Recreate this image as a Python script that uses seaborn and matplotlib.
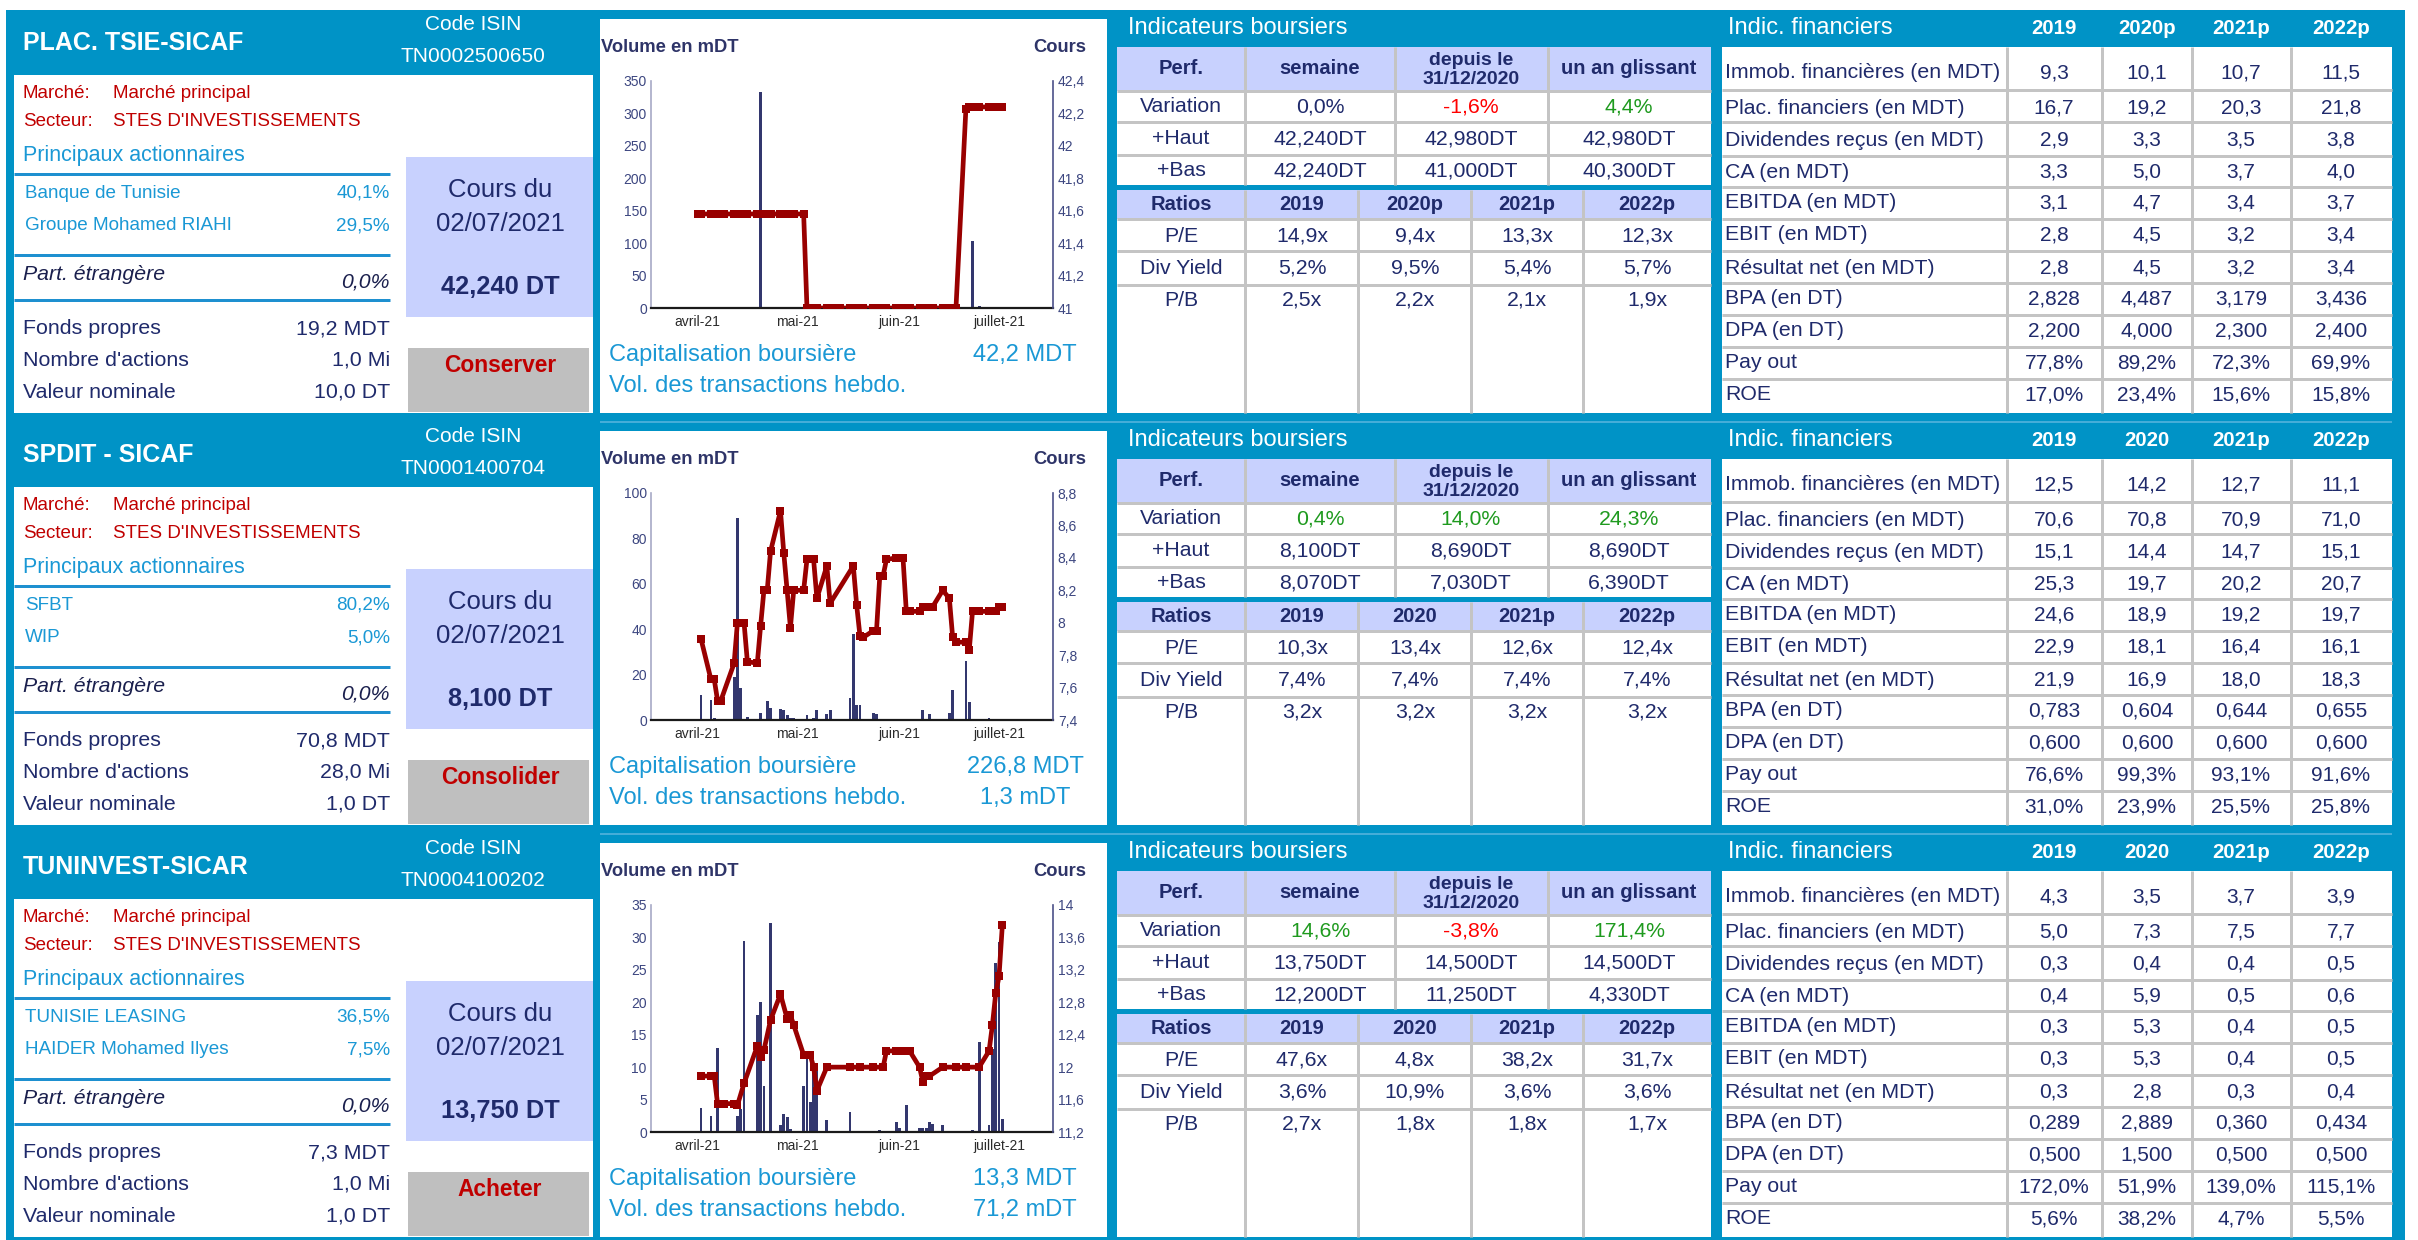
import numpy as np
import pandas as pd
import matplotlib
matplotlib.use("Agg")
import matplotlib.pyplot as plt
import seaborn as sns
from matplotlib.patches import Rectangle
from matplotlib.ticker import FuncFormatter, MultipleLocator

# --- fiche data -------------------------------------------------------------
names = ["PLAC. TSIE-SICAF", "SPDIT - SICAF", "TUNINVEST-SICAR"]
isin = ["TN0002500650", "TN0001400704", "TN0004100202"]
marche = ["Marché principal"] * 3
secteur = ["STES D'INVESTISSEMENTS"] * 3
shareholders = [
    [("Banque de Tunisie", "40,1%"), ("Groupe Mohamed RIAHI", "29,5%")],
    [("SFBT", "80,2%"), ("WIP", "5,0%")],
    [("TUNISIE LEASING", "36,5%"), ("HAIDER Mohamed Ilyes", "7,5%")],
]
part_etrangere = ["0,0%", "0,0%", "0,0%"]
cours_date = ["02/07/2021"] * 3
cours = ["42,240 DT", "8,100 DT", "13,750 DT"]
fonds_propres = ["19,2 MDT", "70,8 MDT", "7,3 MDT"]
nb_actions = ["1,0 Mi", "28,0 Mi", "1,0 Mi"]
nominal = ["10,0 DT", "1,0 DT", "1,0 DT"]
reco = ["Conserver", "Consolider", "Acheter"]
capi = ["42,2 MDT", "226,8 MDT", "13,3 MDT"]
vol_hebdo = ["", "1,3 mDT", "71,2 mDT"]

perf_cols = ["semaine", "depuis le\n31/12/2020", "un an glissant"]
variation = [["0,0%", "-1,6%", "4,4%"], ["0,4%", "14,0%", "24,3%"], ["14,6%", "-3,8%", "171,4%"]]
plus_haut = [["42,240DT", "42,980DT", "42,980DT"], ["8,100DT", "8,690DT", "8,690DT"],
             ["13,750DT", "14,500DT", "14,500DT"]]
plus_bas = [["42,240DT", "41,000DT", "40,300DT"], ["8,070DT", "7,030DT", "6,390DT"],
            ["12,200DT", "11,250DT", "4,330DT"]]
years = [["2019", "2020p", "2021p", "2022p"], ["2019", "2020", "2021p", "2022p"],
         ["2019", "2020", "2021p", "2022p"]]
pe = [["14,9x", "9,4x", "13,3x", "12,3x"], ["10,3x", "13,4x", "12,6x", "12,4x"],
      ["47,6x", "4,8x", "38,2x", "31,7x"]]
div_yield = [["5,2%", "9,5%", "5,4%", "5,7%"], ["7,4%", "7,4%", "7,4%", "7,4%"],
             ["3,6%", "10,9%", "3,6%", "3,6%"]]
pb = [["2,5x", "2,2x", "2,1x", "1,9x"], ["3,2x", "3,2x", "3,2x", "3,2x"],
      ["2,7x", "1,8x", "1,8x", "1,7x"]]

fin_labels = ["Immob. financières (en MDT)", "Plac. financiers (en MDT)", "Dividendes reçus (en MDT)",
              "CA (en MDT)", "EBITDA (en MDT)", "EBIT (en MDT)", "Résultat net (en MDT)",
              "BPA (en DT)", "DPA (en DT)", "Pay out", "ROE"]
fin_plac_tsie = [["9,3", "10,1", "10,7", "11,5"], ["16,7", "19,2", "20,3", "21,8"], ["2,9", "3,3", "3,5", "3,8"],
                 ["3,3", "5,0", "3,7", "4,0"], ["3,1", "4,7", "3,4", "3,7"], ["2,8", "4,5", "3,2", "3,4"],
                 ["2,8", "4,5", "3,2", "3,4"], ["2,828", "4,487", "3,179", "3,436"],
                 ["2,200", "4,000", "2,300", "2,400"], ["77,8%", "89,2%", "72,3%", "69,9%"],
                 ["17,0%", "23,4%", "15,6%", "15,8%"]]
fin_spdit = [["12,5", "14,2", "12,7", "11,1"], ["70,6", "70,8", "70,9", "71,0"], ["15,1", "14,4", "14,7", "15,1"],
             ["25,3", "19,7", "20,2", "20,7"], ["24,6", "18,9", "19,2", "19,7"], ["22,9", "18,1", "16,4", "16,1"],
             ["21,9", "16,9", "18,0", "18,3"], ["0,783", "0,604", "0,644", "0,655"],
             ["0,600", "0,600", "0,600", "0,600"], ["76,6%", "99,3%", "93,1%", "91,6%"],
             ["31,0%", "23,9%", "25,5%", "25,8%"]]
fin_tuninvest = [["4,3", "3,5", "3,7", "3,9"], ["5,0", "7,3", "7,5", "7,7"], ["0,3", "0,4", "0,4", "0,5"],
                 ["0,4", "5,9", "0,5", "0,6"], ["0,3", "5,3", "0,4", "0,5"], ["0,3", "5,3", "0,4", "0,5"],
                 ["0,3", "2,8", "0,3", "0,4"], ["0,289", "2,889", "0,360", "0,434"],
                 ["0,500", "1,500", "0,500", "0,500"], ["172,0%", "51,9%", "139,0%", "115,1%"],
                 ["5,6%", "38,2%", "4,7%", "5,5%"]]
fin_values = [fin_plac_tsie, fin_spdit, fin_tuninvest]

# --- chart data (dates MM-DD 2021) -----------------------------------------
c1_price_dates = ["04-01", "04-02", "04-05", "04-06", "04-07", "04-08", "04-09", "04-12", "04-13", "04-14",
                  "04-15", "04-16", "04-19", "04-20", "04-21", "04-22", "04-23", "04-26", "04-27", "04-28",
                  "04-29", "04-30", "05-03",
                  "05-04", "05-05", "05-06", "05-07", "05-10", "05-11", "05-12", "05-13", "05-14", "05-17",
                  "05-18", "05-19", "05-20", "05-21", "05-24", "05-25", "05-26", "05-27", "05-28", "05-31",
                  "06-01", "06-02", "06-03", "06-04", "06-07", "06-08", "06-09", "06-10", "06-11", "06-14",
                  "06-15", "06-16", "06-17", "06-18",
                  "06-21", "06-22", "06-23", "06-24", "06-25", "06-28", "06-29", "06-30", "07-01", "07-02"]
c1_prices = [41.58] * 23 + [41.0] * 34 + [42.23] + [42.24] * 9
c1_vol_dates = ["04-20", "06-23", "06-25"]
c1_vol = [333, 104, 2.6]

c2_price_dates = ["04-02", "04-05", "04-06", "04-07", "04-08", "04-12", "04-13", "04-14", "04-15", "04-16",
                  "04-19", "04-20", "04-21", "04-22", "04-23", "04-26", "04-27", "04-28", "04-29", "04-30",
                  "05-03", "05-04", "05-05", "05-06", "05-07", "05-10", "05-11", "05-18", "05-19", "05-20",
                  "05-21", "05-24", "05-25", "05-26", "05-27", "05-28", "05-31", "06-01", "06-02", "06-03",
                  "06-04", "06-07", "06-08", "06-09", "06-10", "06-11", "06-14", "06-16", "06-17", "06-18",
                  "06-21", "06-22", "06-23", "06-25", "06-28", "06-30", "07-01", "07-02"]
c2_prices = [7.90, 7.65, 7.65, 7.52, 7.52, 7.75, 8.00, 8.00, 8.00, 7.76,
             7.75, 7.98, 8.20, 8.20, 8.44, 8.69, 8.43, 8.20, 7.97, 8.20,
             8.20, 8.39, 8.39, 8.39, 8.15, 8.35, 8.12, 8.35, 8.11, 7.92,
             7.91, 7.95, 7.95, 8.29, 8.29, 8.39, 8.40, 8.40, 8.40, 8.07,
             8.07, 8.07, 8.10, 8.10, 8.10, 8.10, 8.20, 8.15, 7.91, 7.88,
             7.88, 7.83, 8.07, 8.07, 8.07, 8.07, 8.10, 8.10]
c2_vol_dates = ["04-02", "04-05", "04-06", "04-07", "04-12", "04-13", "04-14", "04-16", "04-19", "04-20",
                "04-21", "04-22", "04-23", "04-26", "04-27", "04-28", "04-29", "04-30", "05-04", "05-06",
                "05-07", "05-10", "05-11", "05-17", "05-18", "05-19", "05-20", "05-24", "05-25", "05-26",
                "06-02", "06-08", "06-10", "06-16", "06-17", "06-21", "06-22", "06-28", "07-01"]
c2_vol = [11, 9, 0.7, 0.5, 19, 89, 14, 1.2, 0.3, 3.2,
          0.6, 8.2, 5.4, 5.0, 4.4, 2.0, 0.9, 0.7, 2.3, 0.9,
          4.2, 2.5, 4.2, 9.5, 37.7, 6.5, 6.5, 3.2, 2.5, 0.3,
          0.3, 4.2, 2.5, 3.2, 13, 26.2, 7.9, 1.0, 0.3]

c3_price_dates = ["04-02", "04-05", "04-06", "04-07", "04-08", "04-09", "04-12", "04-13", "04-15", "04-19",
                  "04-20", "04-21", "04-23", "04-26", "04-28", "04-29", "04-30", "05-03", "05-05", "05-06",
                  "05-07", "05-10", "05-17", "05-20", "05-24", "05-27", "05-28", "05-31", "06-02", "06-04",
                  "06-07", "06-08", "06-09", "06-10", "06-14", "06-18", "06-21", "06-25", "06-28", "06-29",
                  "06-30", "07-01", "07-02"]
c3_prices = [11.89, 11.89, 11.89, 11.55, 11.55, 11.55, 11.55, 11.53, 11.80, 12.26,
             12.12, 12.21, 12.58, 12.90, 12.60, 12.64, 12.52, 12.15, 12.15, 12.00,
             11.71, 12.00, 12.00, 12.00, 12.00, 12.00, 12.20, 12.20, 12.20, 12.20,
             12.00, 11.82, 11.89, 11.89, 12.00, 12.00, 12.00, 12.00, 12.20, 12.52,
             12.91, 13.12, 13.75]
c3_vol_dates = ["04-02", "04-05", "04-07", "04-13", "04-14", "04-15", "04-19", "04-20", "04-21", "04-23",
                "04-26", "04-27", "04-28", "04-29", "05-03", "05-04", "05-05", "05-06", "05-07", "05-10",
                "05-17", "05-26", "05-31", "06-01", "06-03", "06-07", "06-08", "06-09", "06-10", "06-11",
                "06-14", "06-23", "06-25", "06-28", "06-29", "06-30", "07-01", "07-02"]
c3_vol = [3.7, 2.5, 12.9, 2.5, 3.5, 29.5, 18.0, 20.1, 7.1, 32.2,
          1.1, 2.8, 2.3, 0.4, 7.1, 11.8, 4.7, 9.8, 9.5, 1.8,
          3.1, 0.3, 1.6, 0.6, 4.2, 0.6, 0.6, 0.6, 1.5, 1.2,
          1.1, 0.3, 13.9, 1.1, 12.8, 26.0, 29.3, 2.0]

charts = [
    (c1_price_dates, c1_prices, c1_vol_dates, c1_vol),
    (c2_price_dates, c2_prices, c2_vol_dates, c2_vol),
    (c3_price_dates, c3_prices, c3_vol_dates, c3_vol),
]
vol_max = [350, 100, 35]
vol_step = [50, 20, 5]
price_lim = [(41, 42.4), (7.4, 8.8), (11.2, 14)]
price_step = [0.2, 0.2, 0.4]
month_ticks = ["04-01", "05-01", "06-01", "07-01"]
month_labels = ["avril-21", "mai-21", "juin-21", "juillet-21"]

# --- style ------------------------------------------------------------------
W, H = 2418, 1240
BLUE = "#0093C6"
LIGHT = "#C8D1FE"
NAVY = "#1F2A6B"
CYAN = "#1A98D5"
RED = "#C00000"
GRID = "#C4C4C4"
BAR = "#33376E"
LINE = "#990000"
GREEN = "#1E9A1E"

sns.set_theme(style="white")
plt.rcParams["font.family"] = ["Liberation Sans", "DejaVu Sans"]


def day_of(d):
    return (pd.Timestamp("2021-" + d) - pd.Timestamp("2021-04-01")).days


def comma(v, _=None):
    return f"{round(v, 2):g}".replace(".", ",")


fig = plt.figure(figsize=(W / 100, H / 100), dpi=100)
bg = fig.add_axes([0, 0, 1, 1])
bg.set_xlim(0, W)
bg.set_ylim(H, 0)
bg.axis("off")


def rect(x0, y0, x1, y1, color):
    bg.add_patch(Rectangle((x0, y0), x1 - x0, y1 - y0, facecolor=color, edgecolor="none", lw=0))


def txt(x, y, s, size, color=NAVY, ha="left", weight="normal", style="normal", ls=1.05):
    bg.text(x, y, s, fontsize=size, color=color, ha=ha, va="center", fontweight=weight,
            fontstyle=style, linespacing=ls)


def hline(x0, x1, y, color=GRID, px=3):
    bg.plot([x0, x1], [y, y], color=color, lw=px * 0.72, solid_capstyle="butt")


def vline(x, y0, y1, color=GRID, px=3):
    bg.plot([x, x], [y0, y1], color=color, lw=px * 0.72, solid_capstyle="butt")


def val_color(s):
    if s.startswith("-"):
        return "#FF0000"
    if s.strip("%").replace(",", "") == "00":
        return NAVY
    return GREEN


rect(6, 10, 2405, H, BLUE)

for r in range(3):
    y0 = 10 + 412 * r
    if r > 0:
        hline(600, 2392, y0, color="#5DB6DE", px=1.5)

    # --- left identity panel ---
    txt(23, y0 + 33, names[r], 18, "white", weight="bold")
    txt(473, y0 + 15, "Code ISIN", 15, "white", ha="center")
    txt(473, y0 + 47, isin[r], 15, "white", ha="center")
    rect(14, y0 + 65, 593, y0 + 403, "white")
    txt(23, y0 + 83, "Marché:", 13.5, RED)
    txt(113, y0 + 83, marche[r], 13.5, RED)
    txt(23, y0 + 112, "Secteur:", 13.5, RED)
    txt(113, y0 + 112, secteur[r], 13.5, RED)
    txt(23, y0 + 145, "Principaux actionnaires", 15.5, CYAN)
    hline(14, 390, y0 + 164, color="#1E90D0", px=3)
    for k, (who, pct) in enumerate(shareholders[r]):
        txt(25, y0 + 183 + 33 * k, who, 13.6, CYAN)
        txt(390, y0 + 183 + 33 * k, pct, 13.6, CYAN, ha="right")
    hline(14, 390, y0 + 245, color="#1E90D0", px=3)
    txt(23, y0 + 265, "Part. étrangère", 15.3, "#1A1F4D", style="italic")
    txt(390, y0 + 272, part_etrangere[r], 15.3, "#1A1F4D", ha="right", style="italic")
    hline(14, 390, y0 + 290, color="#1E90D0", px=3)
    for k, (lab, v) in enumerate([("Fonds propres", fonds_propres[r]),
                                  ("Nombre d'actions", nb_actions[r]),
                                  ("Valeur nominale", nominal[r])]):
        txt(23, y0 + 319 + 31.5 * k, lab, 15.4)
        txt(390, y0 + 319 + 31.5 * k, v, 15.4, ha="right")
    rect(406, y0 + 147, 593, y0 + 307, LIGHT)
    txt(500, y0 + 180, "Cours du", 18.5, ha="center")
    txt(500, y0 + 214, cours_date[r], 18.5, ha="center")
    txt(500, y0 + 277, cours[r], 18.3, ha="center", weight="bold")
    rect(408, y0 + 338, 589, y0 + 402, "#BFBFBF")
    txt(500, y0 + 356, reco[r], 16.4, RED, ha="center", weight="bold")

    # --- chart panel ---
    rect(600, y0 + 9, 1107, y0 + 403, "white")
    txt(601, y0 + 38, "Volume en mDT", 13.2, "#2E3468", weight="bold")
    txt(1086, y0 + 38, "Cours", 13.2, "#2E3468", ha="right", weight="bold")
    txt(609, y0 + 345, "Capitalisation boursière", 17, CYAN)
    txt(1025, y0 + 345, capi[r], 17, CYAN, ha="center")
    txt(609, y0 + 376, "Vol. des transactions hebdo.", 17, CYAN)
    txt(1025, y0 + 376, vol_hebdo[r], 17, CYAN, ha="center")

    p_dates, p_vals, v_dates, v_vals = charts[r]
    vol_df = pd.DataFrame({"day": [day_of(d) for d in v_dates], "vol": v_vals})
    price_df = pd.DataFrame({"day": [day_of(d) for d in p_dates], "price": p_vals})
    min_gap = np.diff(np.unique(vol_df["day"])).min()

    ax = fig.add_axes([651 / W, 1 - (y0 + 298) / H, (1053 - 651) / W, 227 / H])
    ax.set_facecolor("white")
    sns.barplot(data=vol_df, x="day", y="vol", native_scale=True, width=0.85 / min_gap,
                color=BAR, saturation=1, errorbar=None, linewidth=0, ax=ax)
    ax2 = ax.twinx()
    sns.lineplot(data=price_df, x="day", y="price", ax=ax2, color=LINE, linewidth=3.4,
                 marker="s", markersize=6, markeredgewidth=0)

    ax.set_xlim(-14.1, 107.3)
    ax.set_ylim(0, vol_max[r])
    ax.yaxis.set_major_locator(MultipleLocator(vol_step[r]))
    ax2.set_ylim(*price_lim[r])
    ax2.yaxis.set_major_locator(MultipleLocator(price_step[r]))
    ax2.yaxis.set_major_formatter(FuncFormatter(comma))
    ax.set_xticks([day_of(d) for d in month_ticks])
    ax.set_xticklabels(month_labels)
    for a in (ax, ax2):
        a.set_xlabel("")
        a.set_ylabel("")
        a.grid(False)
    ax.tick_params(axis="y", length=0, pad=3, labelsize=10, labelcolor="#3C4680")
    ax.tick_params(axis="x", length=0, pad=5, labelsize=10, labelcolor="#2B2B2B")
    ax2.tick_params(axis="y", length=0, pad=3.5, labelsize=10, labelcolor="#3C4680")
    ax.spines["top"].set_visible(False)
    ax.spines["right"].set_visible(False)
    ax.spines["left"].set_color("#A7A9C6")
    ax.spines["left"].set_linewidth(1.2)
    ax.spines["bottom"].set_color("#1A1A1A")
    ax.spines["bottom"].set_linewidth(1.6)
    for s in ("top", "left", "bottom"):
        ax2.spines[s].set_visible(False)
    ax2.spines["right"].set_color("#4B5089")
    ax2.spines["right"].set_linewidth(1.2)

    # --- indicateurs boursiers ---
    txt(1128, y0 + 18, "Indicateurs boursiers", 17, "white")
    rect(1117, y0 + 37, 1711, y0 + 403, "white")
    rect(1117, y0 + 37, 1711, y0 + 81, LIGHT)
    rect(1117, y0 + 175, 1711, y0 + 180, BLUE)
    rect(1117, y0 + 180, 1711, y0 + 209, LIGHT)
    for yy in (81, 112, 145, 209, 241, 275):
        hline(1117, 1711, y0 + yy)
    for xx in (1245, 1395, 1548):
        vline(xx, y0 + 37, y0 + 175)
    for xx in (1245, 1358, 1471, 1583):
        vline(xx, y0 + 180, y0 + 403)
    perf_cx = [1320, 1471, 1629]
    ratio_cx = [1302, 1415, 1527, 1647]
    txt(1181, y0 + 58, "Perf.", 14.5, ha="center", weight="bold")
    txt(1320, y0 + 58, perf_cols[0], 14.5, ha="center", weight="bold")
    txt(1471, y0 + 60, perf_cols[1], 14, ha="center", weight="bold", ls=1.15)
    txt(1629, y0 + 58, perf_cols[2], 14.5, ha="center", weight="bold")
    for lab, row, yy in (("Variation", variation[r], 97), ("+Haut", plus_haut[r], 129),
                         ("+Bas", plus_bas[r], 161)):
        txt(1181, y0 + yy, lab, 15.3, ha="center")
        for k, v in enumerate(row):
            col = val_color(v) if lab == "Variation" else NAVY
            txt(perf_cx[k], y0 + yy, v, 15.3, col, ha="center")
    txt(1181, y0 + 194, "Ratios", 14.5, ha="center", weight="bold")
    for k, y in enumerate(years[r]):
        txt(ratio_cx[k], y0 + 194, y, 14.5, ha="center", weight="bold")
    for lab, row, yy in (("P/E", pe[r], 226), ("Div Yield", div_yield[r], 258), ("P/B", pb[r], 290)):
        txt(1181, y0 + yy, lab, 15.3, ha="center")
        for k, v in enumerate(row):
            txt(ratio_cx[k], y0 + yy, v, 15.3, ha="center")

    # --- indicateurs financiers ---
    fin_cx = [2054, 2147, 2241, 2341]
    txt(1728, y0 + 18, "Indic. financiers", 17, "white")
    for k, y in enumerate(years[r]):
        txt(fin_cx[k], y0 + 18, y, 14.7, "white", ha="center", weight="bold")
    rect(1722, y0 + 37, 2392, y0 + 403, "white")
    for xx in (2007, 2102, 2192, 2291):
        vline(xx, y0 + 37, y0 + 403)
    for yy in (80, 112, 146, 177, 209, 241, 273, 305, 337, 369):
        hline(1722, 2392, y0 + yy)
    row_cy = [63, 98, 130, 162, 193, 225, 258, 289, 321, 353, 385]
    for i, lab in enumerate(fin_labels):
        txt(1725, y0 + row_cy[i], lab, 15.3)
        for k, v in enumerate(fin_values[r][i]):
            txt(fin_cx[k], y0 + row_cy[i], v, 15, ha="center")

fig.savefig("out.png", dpi=100)
